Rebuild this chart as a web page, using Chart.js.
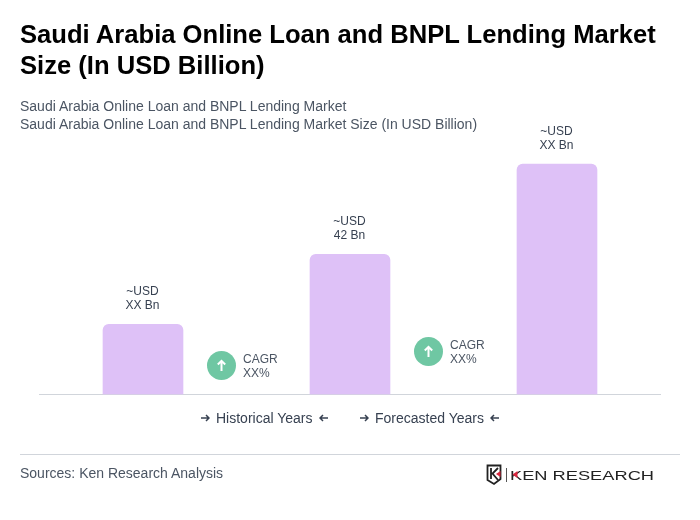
<!DOCTYPE html>
<html>
<head>
<meta charset="utf-8">
<script src="https://cdn.jsdelivr.net/npm/chart.js@4"></script>
<style>
html,body{margin:0;padding:0;background:#fff;width:700px;height:520px;overflow:hidden;font-family:"Liberation Sans",Arial,sans-serif}
#wrap{position:relative;width:700px;height:520px}
canvas{position:absolute;left:0;top:0}
.t{position:absolute;white-space:nowrap}
#title{left:20px;top:19px;font-size:25.600px;line-height:31px;font-weight:700;color:#000;white-space:normal;width:660px}
.sub{left:20px;font-size:14px;line-height:18px;color:#4b5563}
.val{font-size:12px;line-height:14px;color:#374151;text-align:center;transform:translateX(-50%)}
.cagr{font-size:12px;line-height:14px;color:#4b5563}
.circ{position:absolute;width:29px;height:29px;border-radius:50%;background:#6fc7a3}
.circ svg{position:absolute;left:0;top:0}
.leg{font-size:14px;line-height:18px;color:#374151;top:409px}
.ar{position:absolute;top:413px}
#rule{position:absolute;left:20px;top:454px;width:660px;height:1px;background:#d1d5db}
#src{left:20px;top:464px;font-size:14px;line-height:18px;color:#4b5563}
</style>
</head>
<body>
<div id="wrap">
<canvas id="c" width="700" height="520"></canvas>
<div class="t" id="title"></div>
<div class="t sub" id="s1" style="top:97px"></div>
<div class="t sub" id="s2" style="top:115px"></div>
<div id="overlay"></div>
<div id="rule"></div>
<div class="t" id="src"></div>
<svg style="position:absolute;left:484px;top:463px" width="175" height="24" viewBox="0 0 175 24">
<path d="M3.500 2.500H16.500V16L10 21L3.500 17Z" fill="none" stroke="#222" stroke-width="1.800"/>
<path d="M7 5V16M14 5L8.500 10.500L14 17" fill="none" stroke="#222" stroke-width="1.800"/>
<path d="M16.500 8L12 11L16.500 14Z" fill="#d7263d"/>
<line x1="22.500" y1="5" x2="22.500" y2="19" stroke="#555" stroke-width="1"/>
<text x="26" y="16.500" textLength="144" lengthAdjust="spacingAndGlyphs" font-family="Liberation Sans" font-size="13.500" fill="#222">KEN RESEARCH</text>
<path d="M33.500 8L28.500 11.500L33.500 15Z" fill="#d7263d"/>
</svg>
</div>
<script>
const titleText = "Saudi Arabia Online Loan and BNPL Lending Market Size (In USD Billion)";
const subtitleOne = "Saudi Arabia Online Loan and BNPL Lending Market";
const subtitleTwo = "Saudi Arabia Online Loan and BNPL Lending Market Size (In USD Billion)";
const sourceText = "Sources: Ken Research Analysis";
const categories = ["Historical", "Current", "Forecast"];
const barValues = [21, 42, 69];
const barLabels = [["~USD", "XX Bn"], ["~USD", "42 Bn"], ["~USD", "XX Bn"]];
const cagrLabels = [["CAGR", "XX%"], ["CAGR", "XX%"]];
const cagrLevels = [8.7, 12.9];
const legendLabels = ["Historical Years", "Forecasted Years"];

document.getElementById("title").textContent = titleText;
document.getElementById("s1").textContent = subtitleOne;
document.getElementById("s2").textContent = subtitleTwo;
document.getElementById("src").textContent = sourceText;

const overlay = document.getElementById("overlay");
function addText(cls, x, y, lines) {
  const d = document.createElement("div");
  d.className = "t " + cls;
  d.style.left = x + "px";
  d.style.top = y + "px";
  d.innerHTML = lines.join("<br>");
  overlay.appendChild(d);
  return d;
}
function arrow(x, right) {
  const s = right ? "M1 5H9M6 2L9 5L6 8" : "M9 5H1M4 2L1 5L4 8";
  overlay.insertAdjacentHTML("beforeend",
    `<svg class="ar" style="left:${x}px" width="10" height="10"><path d="${s}" fill="none" stroke="#374151" stroke-width="1.500"/></svg>`);
}

const overlayPlugin = {
  id: "overlayPlugin",
  afterRender(chart) {
    if (overlay.childElementCount) return;
    const xs = chart.scales.x, ys = chart.scales.y;
    barValues.forEach((v, i) => {
      addText("val", xs.getPixelForValue(i) - 0.5, ys.getPixelForValue(v) - 40, barLabels[i]);
    });
    cagrLevels.forEach((lv, i) => {
      const cx = (xs.getPixelForValue(i) + xs.getPixelForValue(i + 1)) / 2 - 25.5;
      const cy = ys.getPixelForValue(lv);
      overlay.insertAdjacentHTML("beforeend",
        `<div class="circ" style="left:${cx - 14.5}px;top:${cy - 14.5}px"><svg width="29" height="29"><path d="M14.500 20V10M10.800 13.500L14.500 9.800L18.200 13.500" fill="none" stroke="#fff" stroke-width="2"/></svg></div>`);
      addText("cagr", cx + 22, cy - 13, cagrLabels[i]);
    });
    arrow(200, true);
    addText("leg", 216, 409, [legendLabels[0]]);
    arrow(319, false);
    arrow(359, true);
    addText("leg", 375, 409, [legendLabels[1]]);
    arrow(490, false);
  }
};

new Chart(document.getElementById("c"), {
  type: "bar",
  data: {
    labels: categories,
    datasets: [{
      data: barValues,
      backgroundColor: "#dec1f7",
      barThickness: 80,
      borderRadius: { topLeft: 6, topRight: 6, bottomLeft: 0, bottomRight: 0 },
      borderSkipped: false
    }]
  },
  options: {
    responsive: false,
    animation: false,
    layout: { padding: { left: 39.500, right: 39.500, top: 124, bottom: 125.500 } },
    plugins: { legend: { display: false }, tooltip: { enabled: false } },
    scales: {
      x: {
        grid: { display: false, drawTicks: false },
        border: { display: true, color: "#d1d5db", width: 1 },
        ticks: { display: false }
      },
      y: {
        min: 0, max: 81,
        display: false
      }
    }
  },
  plugins: [overlayPlugin]
});
</script>
</body>
</html>
